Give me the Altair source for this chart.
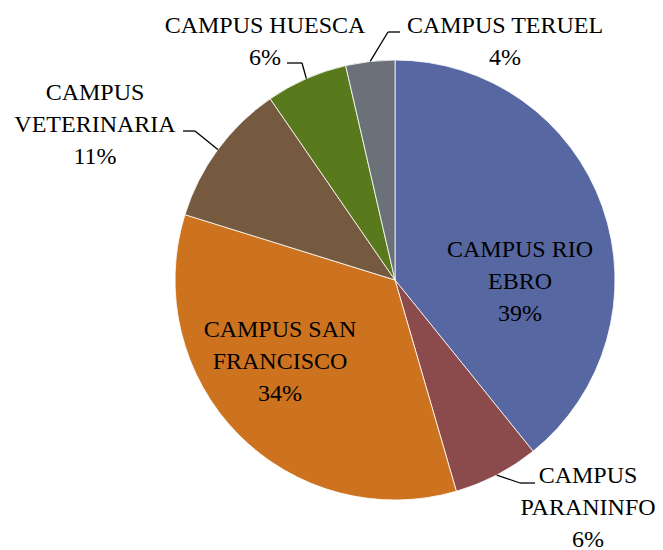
import altair as alt
import pandas as pd

# ---- data -------------------------------------------------------------
categories = [
    "CAMPUS RIO EBRO",
    "CAMPUS PARANINFO",
    "CAMPUS SAN FRANCISCO",
    "CAMPUS VETERINARIA",
    "CAMPUS HUESCA",
    "CAMPUS TERUEL",
]
shares = [39.2, 6.3, 34.3, 10.6, 6.0, 3.6]
label_names = [
    ["CAMPUS RIO", "EBRO"],
    ["CAMPUS", "PARANINFO"],
    ["CAMPUS SAN", "FRANCISCO"],
    ["CAMPUS", "VETERINARIA"],
    ["CAMPUS HUESCA"],
    ["CAMPUS TERUEL"],
]

# ---- styling / placement (pixel offsets from the pie centre, y downwards)
colors = ["#5667A1", "#8B4A4B", "#CD731F", "#765A40", "#597A1C", "#6A7178"]
label_dx = [125, 193, -115, -300, -130, 110]
label_dy = [-23, 203, 57, -180, -247, -247]
elbow_dx = [None, 125, None, -200, -93, -7]
elbow_dy = [None, 203, None, -149, -217, -248]
end_dx = [None, 140, None, -212, -108, 5]
end_dy = [None, 203, None, -149, -217, -248]

R = 220
LINE_H = 32
FONT = "Liberation Serif"

df = pd.DataFrame({
    "idx": list(range(len(categories))),
    "category": categories,
    "share": shares,
    "label_dx": label_dx,
    "label_dy": label_dy,
    "elbow_dx": elbow_dx,
    "elbow_dy": elbow_dy,
    "end_dx": end_dx,
    "end_dy": end_dy,
})

# one row per label line
rows = []
for cat, names, v in zip(categories, label_names, shares):
    lines = names + [f"{round(v)}%"]
    for k, t in enumerate(lines):
        rows.append({"category": cat, "line": k, "text": t})
label_df = pd.DataFrame(rows)

xs = alt.Scale(domain=[-R, R], nice=False, zero=False)
ys = alt.Scale(domain=[-R, R], nice=False, zero=False, reverse=True)

base = (
    alt.Chart(df)
    .transform_joinaggregate(total="sum(share)")
    .transform_window(cum="sum(share)", sort=[alt.SortField("idx")], frame=[None, 0])
    .transform_calculate(mid="(datum.cum - datum.share / 2) / datum.total * 2 * PI")
    .transform_calculate(
        x0=f"{R} * sin(datum.mid)",
        y0=f"-{R} * cos(datum.mid)",
    )
)

pie = base.mark_arc(outerRadius=R, stroke="#ffffff", strokeWidth=0.8).encode(
    theta=alt.Theta("share:Q", stack=True),
    color=alt.Color("category:N", scale=alt.Scale(domain=categories, range=colors), legend=None),
    order=alt.Order("idx:Q"),
)

lead1 = (
    base.transform_filter("isValid(datum.elbow_dx)")
    .mark_rule(color="black", strokeWidth=1.3)
    .encode(
        x=alt.X("x0:Q", scale=xs, axis=None),
        y=alt.Y("y0:Q", scale=ys, axis=None),
        x2="elbow_dx:Q",
        y2="elbow_dy:Q",
    )
)

lead2 = (
    base.transform_filter("isValid(datum.elbow_dx)")
    .mark_rule(color="black", strokeWidth=1.3)
    .encode(
        x=alt.X("elbow_dx:Q", scale=xs, axis=None),
        y=alt.Y("elbow_dy:Q", scale=ys, axis=None),
        x2="end_dx:Q",
        y2="end_dy:Q",
    )
)

labels = (
    alt.Chart(label_df)
    .transform_lookup(
        lookup="category",
        from_=alt.LookupData(df, "category", ["label_dx", "label_dy"]),
    )
    .transform_calculate(ly=f"datum.label_dy + datum.line * {LINE_H}")
    .mark_text(font=FONT, fontSize=24, baseline="alphabetic", align="center", color="black")
    .encode(
        x=alt.X("label_dx:Q", scale=xs, axis=None),
        y=alt.Y("ly:Q", scale=ys, axis=None),
        text=alt.Text("text:N"),
    )
)

chart = (
    alt.layer(pie, lead1, lead2, labels)
    .properties(
        width=2 * R,
        height=2 * R,
        autosize="none",
        padding={"left": 175, "top": 60, "right": 48, "bottom": 50},
        background="white",
    )
    .configure_view(strokeWidth=0)
)

chart.save("out.html", embed_options={"renderer": "svg", "actions": False})
